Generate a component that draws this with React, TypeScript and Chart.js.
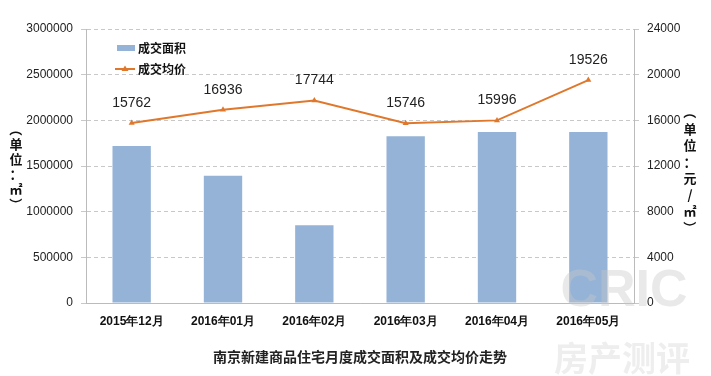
import React, { useEffect, useRef } from "react";
import { Chart, registerables } from "chart.js";

Chart.register(...registerables);

const categories = ["2015年12月", "2016年01月", "2016年02月", "2016年03月", "2016年04月", "2016年05月"];
const areaValues = [1718000, 1392000, 850000, 1827000, 1872000, 1872000];
const priceValues = [15762, 16936, 17744, 15746, 15996, 19526];
const areaLabel = "成交面积";
const priceLabel = "成交均价";
const chartTitle = "南京新建商品住宅月度成交面积及成交均价走势";
const leftAxisTitle = ["（", "单", "位", "：", "㎡", "）"];
const rightAxisTitle = ["（", "单", "位", "：", "元", "/", "㎡", "）"];

const BAR_COLOR = "#95B3D7";
const LINE_COLOR = "#E0782C";
const FONT = "'Noto Sans CJK SC', 'Liberation Sans', sans-serif";

const extrasPlugin = {
  id: "extras",
  afterDatasetsDraw(chart: any) {
    const ctx = chart.ctx;
    const meta = chart.getDatasetMeta(1);
    ctx.save();
    ctx.font = `14px 'Liberation Sans', sans-serif`;
    ctx.fillStyle = "#222";
    ctx.textAlign = "center";
    ctx.textBaseline = "bottom";
    meta.data.forEach((pt: any, i: number) => {
      ctx.fillText(String(priceValues[i]), pt.x, pt.y - 13);
    });
    ctx.restore();
  },
  afterDraw(chart: any) {
    const ctx = chart.ctx;
    ctx.save();
    // legend
    ctx.font = `bold 12px ${FONT}`;
    ctx.textBaseline = "middle";
    ctx.textAlign = "left";
    ctx.fillStyle = BAR_COLOR;
    ctx.fillRect(117, 45, 18, 6);
    ctx.fillStyle = "#111";
    ctx.fillText(areaLabel, 138, 48);
    ctx.strokeStyle = LINE_COLOR;
    ctx.lineWidth = 2;
    ctx.beginPath();
    ctx.moveTo(115, 69);
    ctx.lineTo(135, 69);
    ctx.stroke();
    ctx.fillStyle = LINE_COLOR;
    ctx.beginPath();
    ctx.moveTo(125, 65.5);
    ctx.lineTo(128.5, 71);
    ctx.lineTo(121.5, 71);
    ctx.closePath();
    ctx.fill();
    ctx.fillStyle = "#111";
    ctx.fillText(priceLabel, 138, 69);

    // axis titles (vertical, stacked)
    ctx.font = `bold 13px ${FONT}`;
    ctx.textAlign = "center";
    ctx.fillStyle = "#111";
    const drawVertical = (chars: string[], x: number, yCenter: number, step: number) => {
      const start = yCenter - ((chars.length - 1) * step) / 2;
      chars.forEach((c, i) => {
        const y = start + i * step;
        if (c === "（" || c === "）") {
          ctx.save();
          ctx.translate(x, y);
          ctx.rotate(Math.PI / 2);
          ctx.fillText(c, 0, 0);
          ctx.restore();
        } else {
          ctx.fillText(c, x, y);
        }
      });
    };
    drawVertical(leftAxisTitle, 16, 167, 15);
    drawVertical(rightAxisTitle, 690, 170, 16.5);

    // title
    ctx.font = `bold 14px ${FONT}`;
    ctx.fillStyle = "#222";
    ctx.fillText(chartTitle, 360, 357);

    // watermark
    ctx.font = `bold 52px 'Liberation Sans', sans-serif`;
    ctx.fillStyle = "rgba(200,200,200,0.4)";
    ctx.fillText("CRIC", 624, 292);
    ctx.font = `bold 34px ${FONT}`;
    ctx.fillStyle = "rgba(200,200,200,0.3)";
    ctx.fillText("房产测评", 622, 358);
    ctx.restore();
  },
};

export default function App() {
  const ref = useRef<HTMLCanvasElement>(null);
  useEffect(() => {
    if (!ref.current) return;
    const tickFont = { family: "'Liberation Sans', sans-serif", size: 12 };
    const chart = new Chart(ref.current, {
      type: "bar",
      data: {
        labels: categories,
        datasets: [
          {
            type: "bar",
            label: areaLabel,
            data: areaValues,
            backgroundColor: BAR_COLOR,
            yAxisID: "y",
            barPercentage: 0.42,
            categoryPercentage: 1,
            order: 2,
          },
          {
            type: "line",
            label: priceLabel,
            data: priceValues,
            borderColor: LINE_COLOR,
            backgroundColor: LINE_COLOR,
            borderWidth: 2,
            pointStyle: "triangle",
            pointRadius: 3.5,
            pointBorderWidth: 0,
            yAxisID: "y1",
            tension: 0,
            order: 1,
          } as any,
        ],
      },
      options: {
        responsive: false,
        animation: false,
        layout: { padding: { top: 29, left: 0, right: 0, bottom: 0 } },
        plugins: {
          legend: { display: false },
          title: { display: false },
          tooltip: { enabled: false },
        },
        scales: {
          x: {
            grid: { display: false, drawTicks: true, tickLength: 5, color: "#bbb" },
            border: { color: "#bbb" },
            ticks: { color: "#111", font: { ...tickFont, weight: "bold", size: 12 }, padding: 6, maxRotation: 0 },
            afterFit(scale: any) {
              scale.height = 73;
            },
          },
          y: {
            position: "left",
            min: 0,
            max: 3000000,
            ticks: {
              stepSize: 500000,
              color: "#222",
              font: tickFont,
              padding: 8,
              callback: (v: any) => String(v),
            },
            grid: { color: "#c8c8c8", tickLength: 5, drawOnChartArea: true },
            border: { color: "#bbb", dash: [4, 3] },
            afterFit(scale: any) {
              scale.width = 86;
            },
          },
          y1: {
            position: "right",
            min: 0,
            max: 24000,
            ticks: {
              stepSize: 4000,
              color: "#222",
              font: tickFont,
              padding: 8,
              callback: (v: any) => String(v),
            },
            grid: { drawOnChartArea: false, tickLength: 5, color: "#c8c8c8" },
            border: { color: "#bbb" },
            afterFit(scale: any) {
              scale.width = 77;
            },
          },
        },
      },
      plugins: [extrasPlugin],
    } as any);
    return () => chart.destroy();
  }, []);
  return (
    <div style={{ position: "fixed", left: 0, top: 0, width: 711, height: 376, background: "#fff" }}>
      <canvas ref={ref} width={711} height={376} />
    </div>
  );
}
